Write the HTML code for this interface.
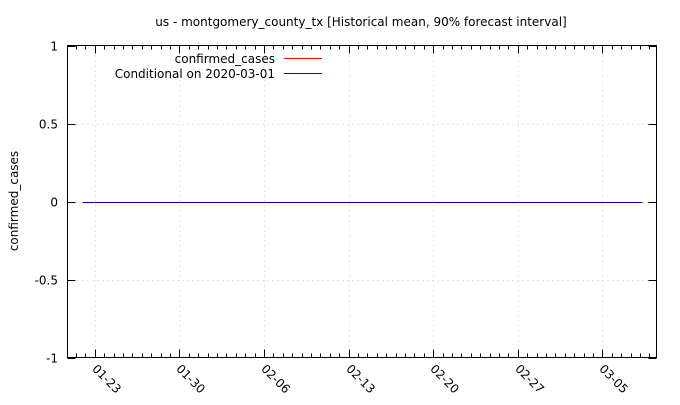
<!DOCTYPE html>
<html><head><meta charset="utf-8"><style>
body{margin:0;background:#fff;}
svg text{font-family:"DejaVu Sans","Liberation Sans",sans-serif;font-size:12px;fill:#000;}
</style></head><body>
<svg id="chart" width="680" height="400" xmlns="http://www.w3.org/2000/svg">
<text x="361" y="26" text-anchor="middle">us - montgomery_county_tx [Historical mean, 90% forecast interval]</text>
<text transform="translate(18,201) rotate(-90)" text-anchor="middle">confirmed_cases</text>
<g id="grid"></g><g id="axes"></g><g id="series"></g>
<rect x="67.5" y="45.5" width="589" height="312" fill="none" stroke="#000"/>
<g>
<text x="275" y="63" text-anchor="end">confirmed_cases</text>
<line x1="284" y1="58.5" x2="322" y2="58.5" stroke="#f00"/>
<text x="275" y="78" text-anchor="end">Conditional on 2020-03-01</text>
<line x1="284" y1="73.5" x2="322" y2="73.5" stroke="#0000cc"/>
</g>
</svg>
<script>
const xTickLabels=["01-23","01-30","02-06","02-13","02-20","02-27","03-05"];
const xTickDays=[1,8,15,22,29,36,43];
const yTicks=[1,0.5,0,-0.5,-1];
const yTickLabels=["1","0.5","0","-0.5","-1"];
const seriesDays=[0,46.3];
const seriesValues=[0,0];
const NS="http://www.w3.org/2000/svg";
const L=67.5,R=656.5,T=45.5,B=357.5;
const dayPx=12.09, day0=94.7-dayPx;
function X(d){return day0+d*dayPx;}
function Y(v){return T+(1-v)/2*(B-T);}
function mk(p,tag,a){const e=document.createElementNS(NS,tag);for(const k in a)e.setAttribute(k,a[k]);p.appendChild(e);return e;}
const grid=document.getElementById('grid'),axes=document.getElementById('axes'),ser=document.getElementById('series');
yTicks.forEach((v,i)=>{const y=Math.round(Y(v))+0.5;
 if(v!==1&&v!==-1){const g=mk(grid,'line',{x1:L,x2:R,y1:y,y2:y,stroke:'#ccc','stroke-dasharray':'1,4'});
 
 }
 const t1=mk(axes,'line',{x1:L,x2:L+8,y1:y,y2:y,stroke:'#000'});
 
 
 const t2=mk(axes,'line',{x1:R-8,x2:R,y1:y,y2:y,stroke:'#000'});
 
 
 const tx=mk(axes,'text',{x:58,y:y+4,'text-anchor':'end'});tx.textContent=yTickLabels[i];
 
 
});
const step=7/9*dayPx;
for(let k=-3;k<70;k++){const x=X(xTickDays[0])+k*step;if(x<=L+1||x>=R-1)continue;const xx=Math.round(x)+0.5;
 const m=mk(axes,'line',{x1:xx,x2:xx,y1:B,y2:B-4,stroke:'#000'});
 
 
 const m2=mk(axes,'line',{x1:xx,x2:xx,y1:T,y2:T+4,stroke:'#000'});
 
 }
xTickDays.forEach((d,i)=>{const x=Math.round(X(d))+0.5;
 const g=mk(grid,'line',{x1:x,x2:x,y1:T,y2:B,stroke:'#ccc','stroke-dasharray':'1,4'});
 
 
 const t=mk(axes,'line',{x1:x,x2:x,y1:B,y2:B-8,stroke:'#000'});
 
 
 const t2=mk(axes,'line',{x1:x,x2:x,y1:T,y2:T+8,stroke:'#000'});
 
 
 const tx=mk(axes,'text',{transform:`translate(${x-4},${B+12}) rotate(45)`});tx.textContent=xTickLabels[i];
 
 
});
const pts=seriesDays.map((d,i)=>X(d).toFixed(1)+','+(Math.round(Y(seriesValues[i]))+0.5)).join(' ');
const pl=mk(ser,'polyline',{points:pts,fill:'none',stroke:'#0000cc','stroke-width':1});


</script>
</body></html>
